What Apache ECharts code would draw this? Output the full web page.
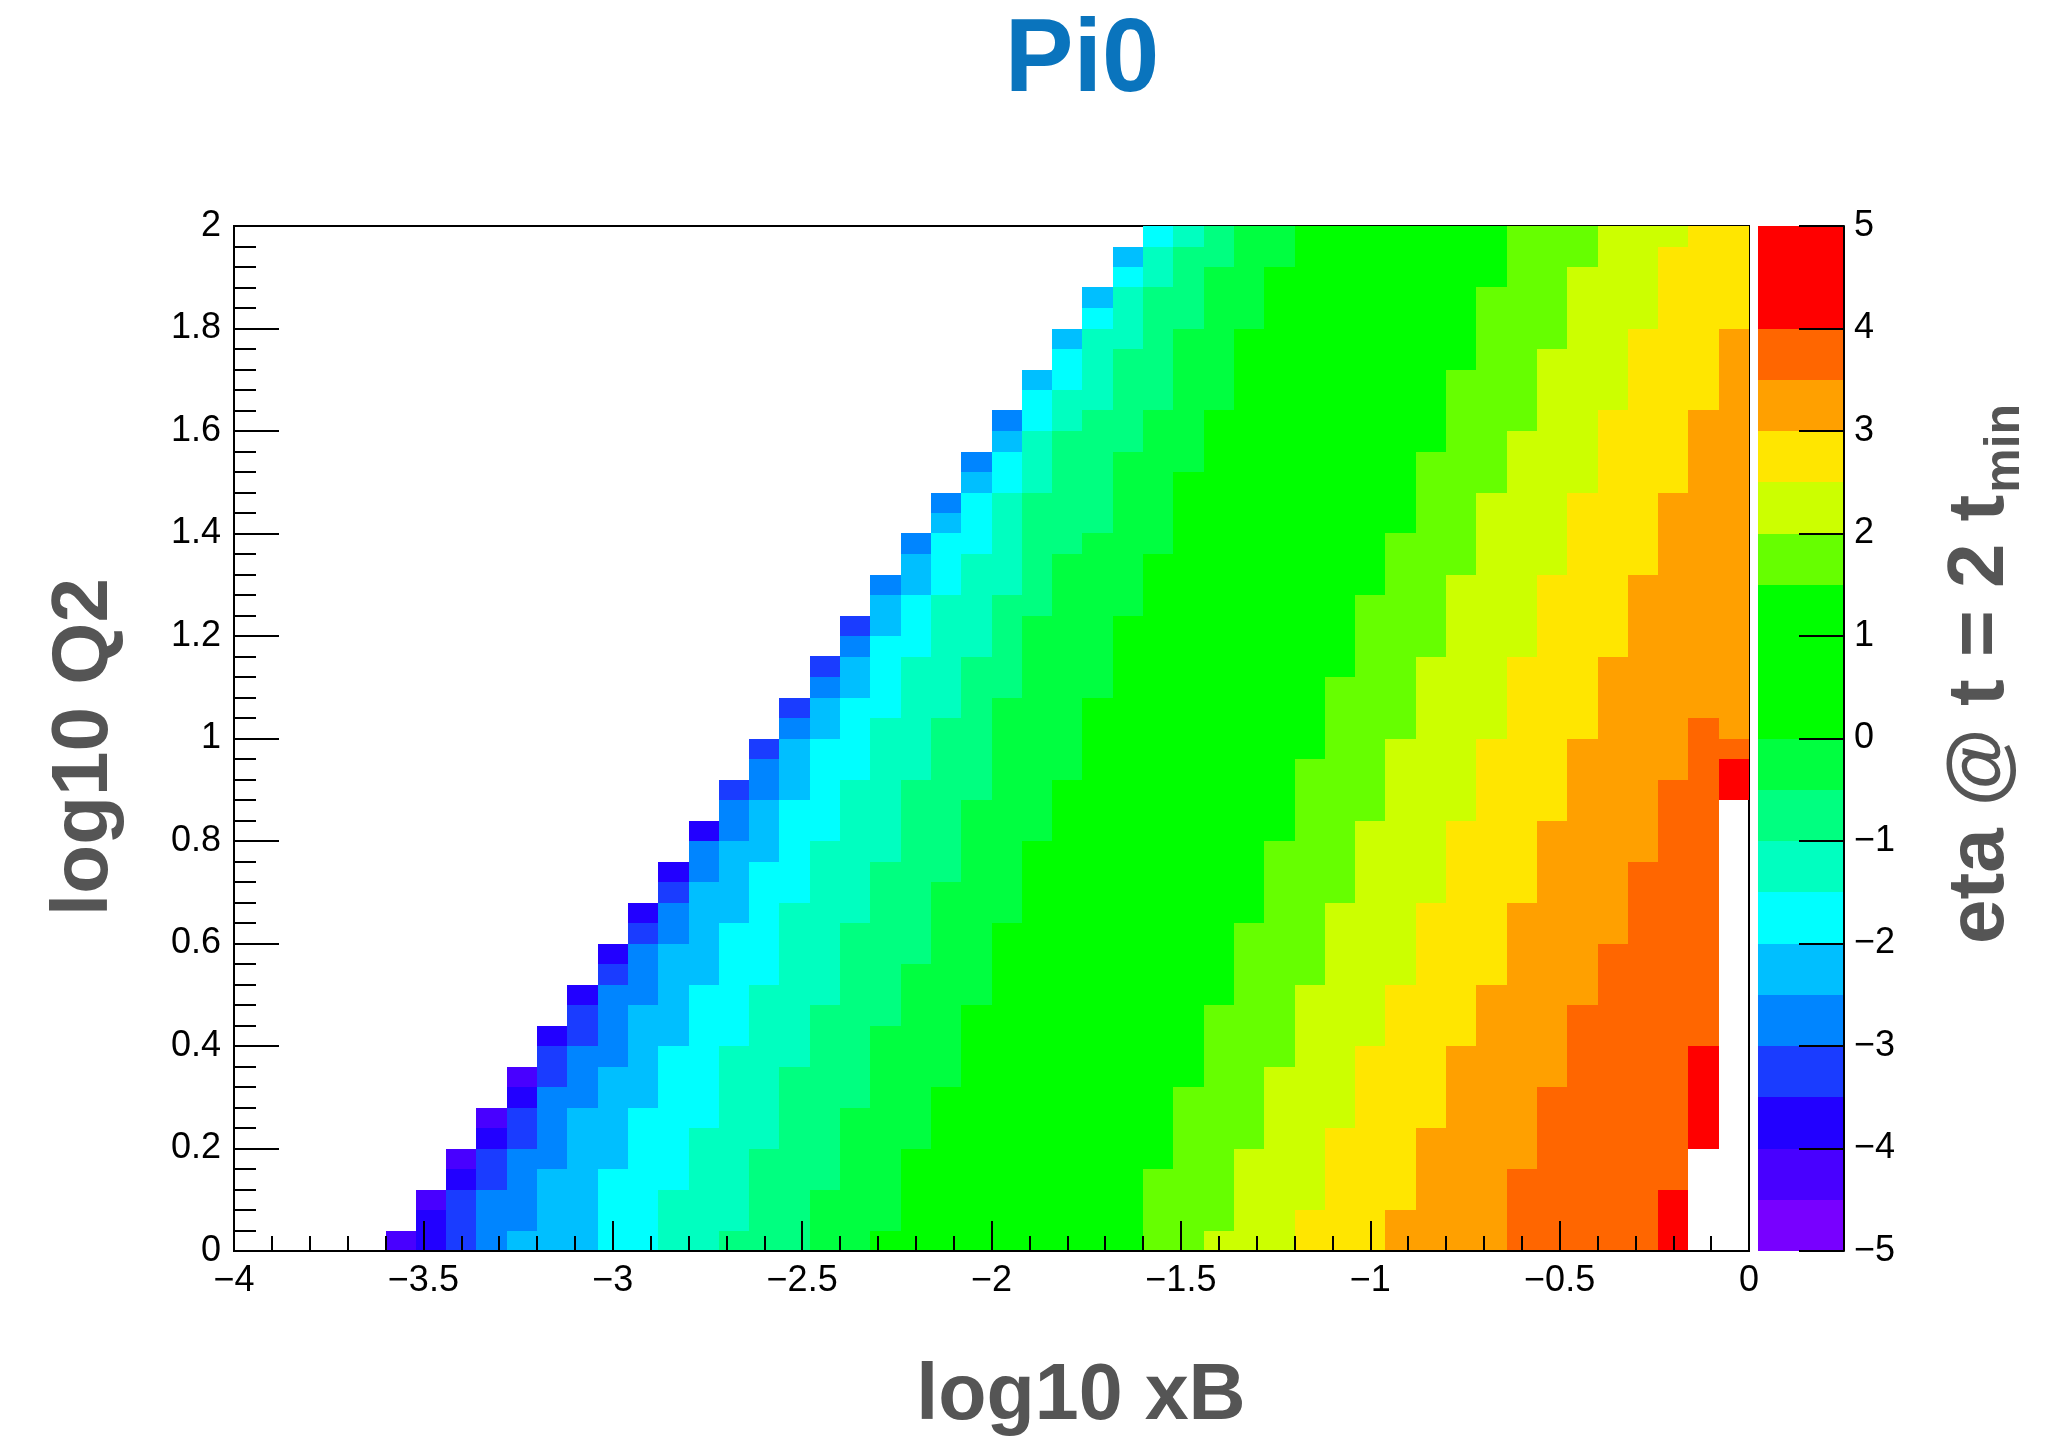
<!DOCTYPE html>
<html>
<head>
<meta charset="utf-8">
<title>Pi0 eta map</title>
<script src="https://cdn.jsdelivr.net/npm/echarts@6/dist/echarts.min.js"></script>
<style>
html, body { margin: 0; padding: 0; background: #ffffff; }
#chart { width: 2065px; height: 1444px; }
</style>
</head>
<body>
<div id="chart"></div>
<script>
// Histogram binning: 50 bins of log10 xB over [-4, 0], 50 bins of log10 Q2 over [0, 2]
const X_MIN = -4, X_MAX = 0, Y_MIN = 0, Y_MAX = 2;
const N_X = 50, N_Y = 50;
const BIN_W = (X_MAX - X_MIN) / N_X;
const BIN_H = (Y_MAX - Y_MIN) / N_Y;

// Filled columns of every log10 Q2 row (row 0 at the bottom): first column, one past the last
const rowStart = [5,6,6,7,7,8,8,9,9,10,10,11,11,12,12,13,13,14,14,15,15,16,16,17,17,18,18,19,19,20,20,21,21,22,22,23,23,24,24,25,25,26,26,27,27,28,28,29,29,30];
const rowEnd   = [48,48,48,48,48,49,49,49,49,49,49,49,49,49,49,49,49,49,49,49,49,49,50,50,50,50,50,50,50,50,50,50,50,50,50,50,50,50,50,50,50,50,50,50,50,50,50,50,50,50];

// For each eta band k (eta in [-5 + 0.5k, -4.5 + 0.5k)): the first column of each row
// at which eta has reached that band. 50 means the band is not reached in that row.
const band2  = [6,6,7,7,8,8,9,9,10,10,10,11,11,12,12,13,13,14,14,15,15,16,16,17,17,18,18,19,19,20,20,21,21,22,22,23,23,24,24,25,25,26,26,27,27,28,28,29,29,30];
const band3  = [7,7,7,8,8,9,9,10,10,10,11,11,12,12,13,13,14,14,15,15,16,16,16,17,17,18,18,19,19,20,20,21,21,22,22,23,23,24,24,25,25,26,26,27,27,28,28,29,29,30];
const band4  = [8,8,8,9,9,10,10,10,11,11,12,12,12,13,13,14,14,15,15,15,16,16,17,17,18,18,19,19,20,20,21,21,21,22,22,23,23,24,24,25,25,26,26,27,27,28,28,29,29,30];
const band5  = [9,10,10,10,11,11,11,12,12,13,13,13,14,14,14,15,15,15,16,16,17,17,18,18,18,19,19,20,20,21,21,21,22,22,23,23,24,24,25,25,26,26,26,27,27,28,28,29,29,30];
const band6  = [12,12,12,12,13,13,13,14,14,14,15,15,15,16,16,16,17,17,17,18,18,18,19,19,19,20,20,21,21,21,22,22,23,23,23,24,24,25,25,26,26,26,27,27,28,28,29,29,30,30];
const band7  = [14,14,14,15,15,15,16,16,16,16,17,17,17,18,18,18,18,19,19,19,20,20,20,21,21,21,22,22,22,23,23,23,24,24,25,25,25,26,26,26,27,27,28,28,28,29,29,30,30,31];
const band8  = [16,17,17,17,17,18,18,18,18,19,19,19,20,20,20,20,21,21,21,22,22,22,22,23,23,23,24,24,24,25,25,25,26,26,26,26,26,27,27,27,28,29,29,29,30,30,30,31,31,32];
const band9  = [19,19,19,20,20,20,20,21,21,21,21,22,22,22,23,23,23,23,24,24,24,24,25,25,25,25,25,26,26,26,26,27,27,27,28,29,29,29,29,30,30,31,31,31,31,32,32,32,33,33];
const band10 = [21,22,22,22,22,23,23,23,24,24,24,24,25,25,25,25,26,26,26,26,27,27,27,28,28,28,28,29,29,29,29,30,30,30,31,31,31,31,32,32,32,33,33,33,33,34,34,34,35,35];
const band13 = [30,30,30,30,31,31,31,31,32,32,32,32,33,33,33,33,34,34,34,34,35,35,35,35,36,36,36,36,37,37,37,37,38,38,38,39,39,39,39,40,40,40,40,41,41,41,41,42,42,42];
const band14 = [32,33,33,33,33,34,34,34,34,35,35,35,35,36,36,36,36,37,37,37,37,38,38,38,38,39,39,39,39,40,40,40,40,41,41,41,41,42,42,42,43,43,43,43,44,44,44,44,45,45];
const band15 = [35,35,36,36,36,36,37,37,37,37,38,38,38,39,39,39,39,40,40,40,40,41,41,41,41,42,42,42,42,43,43,43,43,44,44,44,44,45,45,45,45,46,46,46,46,47,47,47,47,48];
const band16 = [38,38,39,39,39,39,40,40,40,40,41,41,41,42,42,42,42,43,43,43,43,44,44,44,44,45,45,45,45,46,46,46,46,47,47,47,47,48,48,48,48,49,49,49,49,50,50,50,50,50];
const band17 = [42,42,42,42,43,43,43,43,44,44,44,44,45,45,45,46,46,46,46,47,47,47,47,48,48,48,50,50,50,50,50,50,50,50,50,50,50,50,50,50,50,50,50,50,50,50,50,50,50,50];
const band18 = [47,47,47,50,50,48,48,48,48,48,50,50,50,50,50,50,50,50,50,50,50,50,49,49,50,50,50,50,50,50,50,50,50,50,50,50,50,50,50,50,50,50,50,50,50,50,50,50,50,50];

// Single cells that fall back below the band of their left neighbour: [column, row, band]
const bandPatches = [[49, 25, 16]];

// Lower edges of the 20 colour-scale bands (eta from -5 to 5)
const paletteLevels = [-5,-4.5,-4,-3.5,-3,-2.5,-2,-1.5,-1,-0.5,0,0.5,1,1.5,2,2.5,3,3.5,4,4.5];
const PALETTE_STEP = 0.5;

// Colours of the 20 bands, bottom to top
const PALETTE = ['#7800ff','#4800ff','#2200ff','#1a3cff','#0085ff','#00bfff','#00ffff','#00ffc0',
                 '#00ff80','#00ff40','#00ff00','#00ff00','#00ff00','#66ff00','#ccff00','#ffe600',
                 '#ffa000','#ff6600','#ff0000','#ff0000'];

const bandEdges = [[2,band2],[3,band3],[4,band4],[5,band5],[6,band6],[7,band7],[8,band8],[9,band9],
                   [10,band10],[13,band13],[14,band14],[15,band15],[16,band16],[17,band17],[18,band18]];

// eta of a band is taken at the band centre
function bandValue(k) { return -5 + PALETTE_STEP * k + PALETTE_STEP / 2; }

const cells = [];
for (let j = 0; j < N_Y; j++) {
  for (let c = rowStart[j]; c < rowEnd[j]; c++) {
    let k = 1;
    for (const [lev, edge] of bandEdges) { if (edge[j] <= c && lev > k) k = lev; }
    for (const p of bandPatches) { if (p[0] === c && p[1] === j) k = p[2]; }
    cells.push([X_MIN + c * BIN_W, Y_MIN + j * BIN_H, bandValue(k)]);
  }
}

const paletteData = paletteLevels.map(lo => [0, lo, lo + PALETTE_STEP / 2]);

const FONT = '"Liberation Sans", Arial, Helvetica, sans-serif';

function signed(v) {
  const a = +Math.abs(v).toFixed(2);
  return (v < 0 ? '\u2212' : '') + a;
}

function renderCell(params, api) {
  const x0 = api.value(0), y0 = api.value(1);
  const a = api.coord([x0, y0 + BIN_H]);
  const b = api.coord([x0 + BIN_W, y0]);
  const x = Math.round(a[0]), y = Math.round(a[1]);
  return {
    type: 'rect',
    shape: { x: x, y: y, width: Math.round(b[0]) - x, height: Math.round(b[1]) - y },
    style: { fill: api.visual('color') }
  };
}

function renderBand(params, api) {
  const lo = api.value(1);
  const a = api.coord([0, lo + PALETTE_STEP]);
  const b = api.coord([1, lo]);
  const x = Math.round(a[0]), y = Math.round(a[1]);
  return {
    type: 'rect',
    shape: { x: x, y: y, width: Math.round(b[0]) - x, height: Math.round(b[1]) - y },
    style: { fill: api.visual('color') }
  };
}

const pieces = PALETTE.map((col, m) => ({ gte: -5 + PALETTE_STEP * m, lt: -5 + PALETTE_STEP * (m + 1), color: col }));

// width of the main part of the colour-scale title, to place the subscript after it
const measure = document.createElement('canvas').getContext('2d');
measure.font = 'bold 80px ' + FONT;
const ztitleWidth = measure.measureText('eta @ t = 2 t').width;

const axisBlack = { color: '#000', width: 2 };

const option = {
  backgroundColor: '#ffffff',
  animation: false,
  textStyle: { fontFamily: FONT },
  grid: [
    { left: 234, top: 226, width: 1515, height: 1025, show: true, borderColor: '#000', borderWidth: 2, backgroundColor: 'rgba(0,0,0,0)' },
    { left: 1758, top: 226, width: 86, height: 1025, show: false }
  ],
  xAxis: [
    {
      gridIndex: 0, type: 'value', min: X_MIN, max: X_MAX, interval: 0.5, z: 5,
      axisLine: { show: true, onZero: false, lineStyle: axisBlack },
      axisTick: { show: true, inside: true, length: 30, lineStyle: axisBlack },
      minorTick: { show: true, splitNumber: 5, length: 15, lineStyle: axisBlack },
      splitLine: { show: false },
      axisLabel: { margin: 12, fontSize: 36, color: '#000', fontFamily: FONT, formatter: signed }
    },
    { gridIndex: 1, type: 'value', min: 0, max: 1, show: false }
  ],
  yAxis: [
    {
      gridIndex: 0, type: 'value', min: Y_MIN, max: Y_MAX, interval: 0.2, z: 5,
      axisLine: { show: true, onZero: false, lineStyle: axisBlack },
      axisTick: { show: true, inside: true, length: 45, lineStyle: axisBlack },
      minorTick: { show: true, splitNumber: 5, length: 22, lineStyle: axisBlack },
      splitLine: { show: false },
      axisLabel: { margin: 13, fontSize: 36, color: '#000', fontFamily: FONT, formatter: signed }
    },
    {
      gridIndex: 1, type: 'value', min: -5, max: 5, interval: 1, position: 'right', z: 5,
      axisLine: { show: true, onZero: false, lineStyle: axisBlack },
      axisTick: { show: true, inside: true, length: 45, lineStyle: axisBlack },
      splitLine: { show: false },
      axisLabel: { margin: 10, fontSize: 36, color: '#000', fontFamily: FONT, formatter: signed }
    }
  ],
  visualMap: {
    type: 'piecewise', show: false, dimension: 2, seriesIndex: [0, 1], pieces: pieces
  },
  series: [
    {
      type: 'custom', name: 'eta', xAxisIndex: 0, yAxisIndex: 0,
      renderItem: renderCell, data: cells, encode: { x: 0, y: 1 }, silent: true
    },
    {
      type: 'custom', name: 'scale', xAxisIndex: 1, yAxisIndex: 1,
      renderItem: renderBand, data: paletteData, encode: { x: 0, y: 1 }, silent: true
    }
  ],
  graphic: [
    {
      type: 'text', x: 1082, y: 63,
      style: { text: 'Pi0', font: 'bold 103px ' + FONT, fill: '#0a74bd',
               align: 'center', verticalAlign: 'middle', textAlign: 'center', textVerticalAlign: 'middle' }
    },
    {
      type: 'text', x: 1081, y: 1397,
      style: { text: 'log10 xB', font: 'bold 79px ' + FONT, fill: '#555555',
               align: 'center', verticalAlign: 'middle', textAlign: 'center', textVerticalAlign: 'middle' }
    },
    {
      type: 'text', x: 85, y: 747, rotation: Math.PI / 2,
      style: { text: 'log10 Q2', font: 'bold 80px ' + FONT, fill: '#555555',
               align: 'center', verticalAlign: 'middle', textAlign: 'center', textVerticalAlign: 'middle' }
    },
    {
      type: 'group', x: 1981, y: 944, rotation: Math.PI / 2,
      children: [
        {
          type: 'text', x: 0, y: 0,
          style: { text: 'eta @ t = 2 t', font: 'bold 80px ' + FONT, fill: '#555555',
                   align: 'left', verticalAlign: 'middle', textAlign: 'left', textVerticalAlign: 'middle' }
        },
        {
          type: 'text', x: ztitleWidth + 2, y: 24,
          style: { text: 'min', font: 'bold 50px ' + FONT, fill: '#555555',
                   align: 'left', verticalAlign: 'middle', textAlign: 'left', textVerticalAlign: 'middle' }
        }
      ]
    }
  ]
};

const chart = echarts.init(document.getElementById('chart'), null, { renderer: 'canvas', width: 2065, height: 1444 });
chart.setOption(option);
</script>
</body>
</html>
